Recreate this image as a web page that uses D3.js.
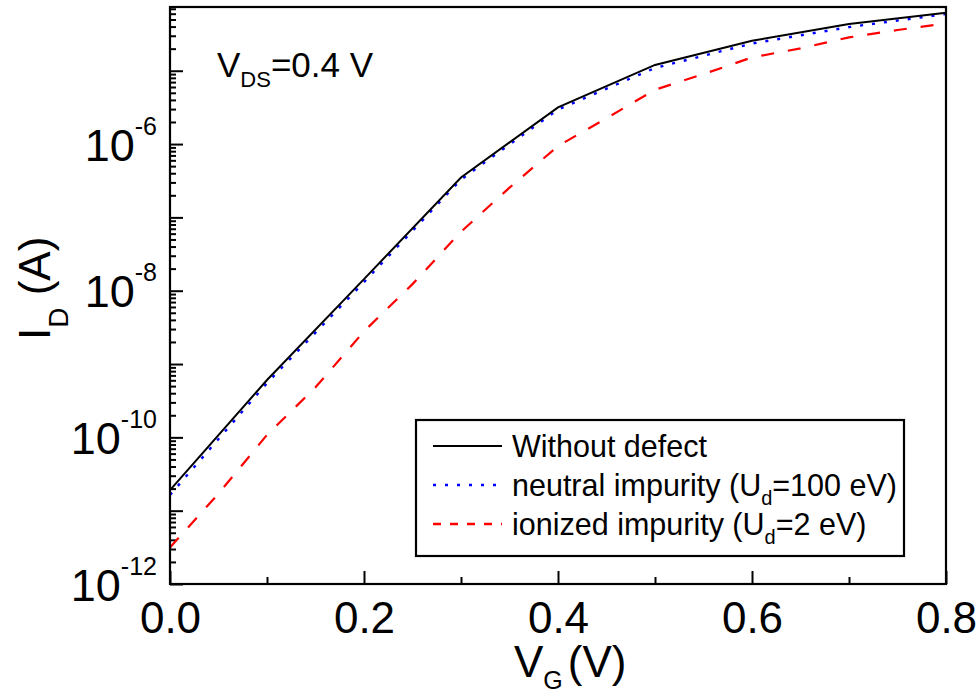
<!DOCTYPE html>
<html>
<head>
<meta charset="utf-8">
<script src="https://cdn.jsdelivr.net/npm/d3@7"></script>
<style>
  body { margin: 0; background: #fff; }
  svg { display: block; font-family: "Liberation Sans", Arial, Helvetica, sans-serif; }
</style>
</head>
<body>
<script>
// ---------------- data ----------------
const vgMain = [0, 0.1, 0.2, 0.3, 0.4, 0.5, 0.6, 0.7, 0.8];
const idWithoutDefect = [1.91e-11, 6.05e-10, 1.44e-8, 3.5e-7, 3.17e-6, 1.2e-5, 2.56e-5, 4.34e-5, 6.18e-5];
const idNeutral = [1.64e-11, 5.5e-10, 1.31e-8, 3.28e-7, 2.96e-6, 1.09e-5, 2.35e-5, 3.94e-5, 5.93e-5];
const vgIonized = [0, 0.05, 0.1, 0.15, 0.2, 0.25, 0.3, 0.35, 0.4, 0.45, 0.5, 0.55, 0.6, 0.65, 0.7, 0.75, 0.8];
const idIonized = [3.15e-12, 1.71e-11, 1.08e-10, 4.81e-10, 2.79e-9, 1.23e-8, 6.37e-8, 2.54e-7, 9.4e-7, 2.25e-6, 5.5e-6, 9.0e-6, 1.52e-5, 2.02e-5, 2.85e-5, 3.59e-5, 4.43e-5];

const xMajorTicks = [0, 0.2, 0.4, 0.6, 0.8];
const xMinorTicks = [0.1, 0.3, 0.5, 0.7];
const xTickLabels = ["0.0", "0.2", "0.4", "0.6", "0.8"];
const yDecades = [1e-12, 1e-11, 1e-10, 1e-9, 1e-8, 1e-7, 1e-6, 1e-5];
const yLabelExponents = [-12, -10, -8, -6];
const seriesNames = ["Without defect", "neutral impurity (U", "ionized impurity (U"];
const seriesSuffix = ["", "=100 eV)", "=2 eV)"];
const seriesColors = ["#000000", "#0000ff", "#ff0000"];

// ---------------- layout ----------------
const W = 980, H = 696;
const L = 170, R = 946, T = 7, B = 584;

const svg = d3.select("body").append("svg").attr("width", W).attr("height", H);

const x = d3.scaleLinear().domain([0, 0.8]).range([L, R]);
const y = d3.scaleLog().domain([1e-12, 7.4e-5]).range([B, T]);

// minor y ticks
const yMinor = [];
yDecades.forEach(d => { for (let k = 2; k <= 9; k++) { const v = d * k; if (v <= y.domain()[1]) yMinor.push(v); } });

// x axis: minor ticks
const gxMinor = svg.append("g").attr("transform", `translate(0,${B})`)
  .call(d3.axisBottom(x).tickValues(xMinorTicks).tickSizeInner(-7).tickSizeOuter(0).tickFormat(""));
// x axis: major ticks
const gx = svg.append("g").attr("transform", `translate(0,${B})`)
  .call(d3.axisBottom(x).tickValues(xMajorTicks).tickSizeInner(-13).tickSizeOuter(0).tickPadding(18)
    .tickFormat((d, i) => xTickLabels[i]));

// y axis minor ticks
const gyMinor = svg.append("g").attr("transform", `translate(${L},0)`)
  .call(d3.axisLeft(y).tickValues(yMinor).tickSizeInner(-6).tickSizeOuter(0).tickFormat(""));
// y axis major ticks
const gy = svg.append("g").attr("transform", `translate(${L},0)`)
  .call(d3.axisLeft(y).tickValues(yDecades).tickSizeInner(-13).tickSizeOuter(0).tickPadding(13).tickFormat(""));

[gx, gxMinor, gy, gyMinor].forEach(g => {
  g.select(".domain").remove();
  g.selectAll(".tick line").attr("stroke", "#000").attr("stroke-width", 2);
});
gx.selectAll(".tick text").attr("font-size", 44).attr("fill", "#000")
  .attr("font-family", "'Liberation Sans', Arial, sans-serif");

// y tick labels (10^n) on even exponents
gy.selectAll(".tick text").each(function (d) {
  const e = Math.round(Math.log10(d));
  const t = d3.select(this).attr("dy", null).attr("y", 16).attr("fill", "#000")
    .attr("font-family", "'Liberation Sans', Arial, sans-serif");
  if (yLabelExponents.includes(e)) {
    t.append("tspan").attr("font-size", 45).text("10");
    t.append("tspan").attr("font-size", 25).attr("dy", -26).text(String(e));
  }
});

// ---------------- curves ----------------
const lineGen = d3.line().x(d => x(d[0])).y(d => y(d[1]));
const plot = svg.append("g");
plot.append("path").datum(vgIonized.map((v, i) => [v, idIonized[i]]))
  .attr("d", lineGen).attr("fill", "none").attr("stroke", seriesColors[2])
  .attr("stroke-width", 2.2).attr("stroke-dasharray", "13,14");
plot.append("path").datum(vgMain.map((v, i) => [v, idNeutral[i]]))
  .attr("d", lineGen).attr("fill", "none").attr("stroke", seriesColors[1])
  .attr("stroke-width", 2.4).attr("stroke-dasharray", "3,9");
plot.append("path").datum(vgMain.map((v, i) => [v, idWithoutDefect[i]]))
  .attr("d", lineGen).attr("fill", "none").attr("stroke", seriesColors[0])
  .attr("stroke-width", 2);

// frame
svg.append("rect").attr("x", L).attr("y", T).attr("width", R - L).attr("height", B - T)
  .attr("fill", "none").attr("stroke", "#000").attr("stroke-width", 2.2);

// ---------------- axis titles ----------------
const xt = svg.append("text").attr("x", 514).attr("y", 677).attr("fill", "#000");
xt.append("tspan").attr("font-size", 44).text("V");
xt.append("tspan").attr("font-size", 25).attr("dy", 12).text("G");
xt.append("tspan").attr("font-size", 44).attr("dy", -12).attr("dx", 5).text("(V)");

const yt = svg.append("text").attr("transform", "translate(50,340) rotate(-90)").attr("fill", "#000");
yt.append("tspan").attr("font-size", 44).text("I");
yt.append("tspan").attr("font-size", 28).attr("dy", 18).text("D");
yt.append("tspan").attr("font-size", 44).attr("dy", -18).text(" (A)");

// annotation
const an = svg.append("text").attr("x", 217).attr("y", 77).attr("fill", "#000");
an.append("tspan").attr("font-size", 35).text("V");
an.append("tspan").attr("font-size", 22).attr("dy", 10).text("DS");
an.append("tspan").attr("font-size", 35).attr("dy", -10).text("=0.4 V");

// ---------------- legend ----------------
const lg = svg.append("g");
lg.append("rect").attr("x", 416).attr("y", 420).attr("width", 488).attr("height", 136)
  .attr("fill", "#fff").attr("stroke", "#000").attr("stroke-width", 2.2);
const rowY = [446, 485, 524];
const dashes = [null, "3,9", "8,9"];
seriesNames.forEach((name, i) => {
  lg.append("line").attr("x1", 433).attr("x2", 502).attr("y1", rowY[i]).attr("y2", rowY[i])
    .attr("stroke", seriesColors[i]).attr("stroke-width", i === 0 ? 2 : 2.4)
    .attr("stroke-dasharray", dashes[i]);
  const t = lg.append("text").attr("x", 512).attr("y", rowY[i] + 11).attr("fill", "#000").attr("font-size", 30.5);
  t.append("tspan").text(name);
  if (i > 0) {
    t.append("tspan").attr("font-size", 20).attr("dy", 9).text("d");
    t.append("tspan").attr("dy", -9).text(seriesSuffix[i]);
  }
});
</script>
</body>
</html>
